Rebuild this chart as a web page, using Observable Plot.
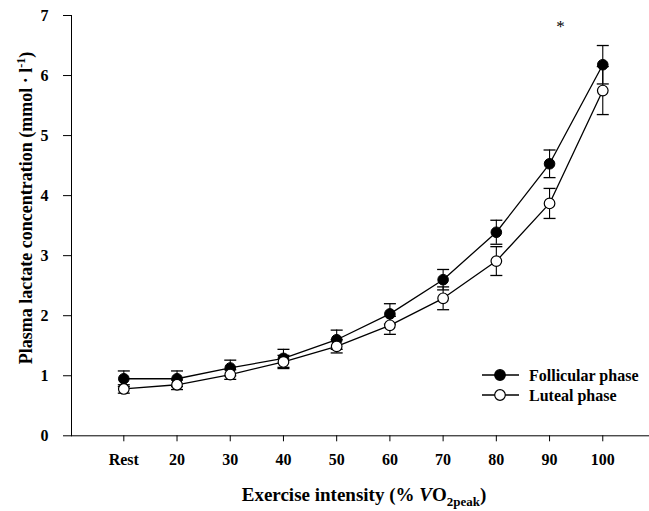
<!DOCTYPE html>
<html>
<head>
<meta charset="utf-8">
<script src="https://cdn.jsdelivr.net/npm/d3@7"></script>
<script src="https://cdn.jsdelivr.net/npm/@observablehq/plot@0.6"></script>
<style>
  html, body { margin: 0; padding: 0; background: #fff; }
  #chart { width: 649px; height: 511px; }
</style>
</head>
<body>
<div id="chart"></div>
<script>
// ---- data ----
const levels = ["Rest", "20", "30", "40", "50", "60", "70", "80", "90", "100"];
const follicular   = [0.95, 0.95, 1.13, 1.29, 1.60, 2.03, 2.60, 3.39, 4.53, 6.18];
const follicularSE = [0.13, 0.13, 0.13, 0.15, 0.16, 0.17, 0.17, 0.20, 0.23, 0.32];
const luteal       = [0.78, 0.85, 1.02, 1.23, 1.49, 1.84, 2.29, 2.91, 3.87, 5.75];
const lutealSE     = [0.07, 0.08, 0.08, 0.11, 0.11, 0.15, 0.19, 0.24, 0.25, 0.40];
const phases = ["Follicular phase", "Luteal phase"];
const yTicks = [0, 1, 2, 3, 4, 5, 6, 7];
const significance = [{level: "90", value: 6.82, label: "*"}];

// ---- table built from the arrays ----
const rows = [];
levels.forEach((lv, i) => {
  rows.push({phase: phases[0], i, value: follicular[i], se: follicularSE[i]});
  rows.push({phase: phases[1], i, value: luteal[i], se: lutealSE[i]});
});
const caps = rows.flatMap(d => [{i: d.i, y: d.value - d.se}, {i: d.i, y: d.value + d.se}]);
const fol = rows.filter(d => d.phase === phases[0]);
const lut = rows.filter(d => d.phase === phases[1]);

const capSymbol = {
  draw(ctx, size) {
    const r = Math.sqrt(size / Math.PI);
    ctx.moveTo(-r, 0);
    ctx.lineTo(r, 0);
  }
};

const W = 649, H = 511;
const plot = Plot.plot({
  width: W,
  height: H,
  marginLeft: 71,
  marginRight: 0,
  marginTop: 15,
  marginBottom: 75.7,
  style: {fontFamily: "'Liberation Serif', 'Times New Roman', serif", fontSize: "16px", fontWeight: "bold", color: "black", background: "white"},
  x: {
    type: "linear",
    domain: [-0.983, 9.878],
    ticks: levels.map((d, i) => i),
    tickFormat: i => levels[i],
    tickSize: 6,
    tickPadding: 12,
    line: true,
    label: null
  },
  y: {
    domain: [0, 7],
    ticks: yTicks,
    tickFormat: d => String(d),
    tickSize: 8,
    tickPadding: 15,
    line: true,
    label: null
  },
  marks: [
    Plot.ruleX(rows, {x: "i", y1: d => d.value - d.se, y2: d => d.value + d.se, stroke: "black", strokeWidth: 1.1}),
    Plot.dot(caps, {x: "i", y: "y", r: 6, symbol: capSymbol, stroke: "black", strokeWidth: 1.3, fill: "none"}),
    Plot.line(rows, {x: "i", y: "value", z: "phase", stroke: "black", strokeWidth: 1.3}),
    Plot.dot(fol, {x: "i", y: "value", r: 5.3, fill: "black", stroke: "black", strokeWidth: 1}),
    Plot.dot(lut, {x: "i", y: "value", r: 5.3, fill: "white", stroke: "black", strokeWidth: 1.2}),
    Plot.text(significance, {x: d => levels.indexOf(d.level), y: "value", text: "label", dx: 11, fontSize: 17, fontWeight: "normal"})
  ]
});
document.getElementById("chart").appendChild(plot);

// ---- axis titles and legend ----
const svg = d3.select(plot);
const font = "'Liberation Serif', 'Times New Roman', serif";

const yt = svg.append("text")
  .attr("transform", "translate(32,208) rotate(-90)")
  .attr("text-anchor", "middle")
  .attr("font-family", font).attr("font-weight", "bold").attr("font-size", 18).attr("fill", "black");
yt.append("tspan").text("Plasma lactate concentration (mmol \u00B7 l");
yt.append("tspan").attr("font-size", 12).attr("dy", -7).text("-1");
yt.append("tspan").attr("dy", 7).text(")");

const xt = svg.append("text")
  .attr("x", 364).attr("y", 501)
  .attr("text-anchor", "middle")
  .attr("font-family", font).attr("font-weight", "bold").attr("font-size", 19).attr("fill", "black");
xt.append("tspan").text("Exercise intensity (% ");
xt.append("tspan").attr("font-style", "italic").text("V");
xt.append("tspan").text("O");
xt.append("tspan").attr("font-size", 13).attr("dy", 5).text("2peak");
xt.append("tspan").attr("dy", -5).text(")");

const legend = svg.append("g").attr("text-anchor", "start");
phases.forEach((p, k) => {
  const y = 375 + k * 20;
  legend.append("line").attr("x1", 482).attr("x2", 519).attr("y1", y).attr("y2", y)
    .attr("stroke", "black").attr("stroke-width", 1.3);
  legend.append("circle").attr("cx", 500).attr("cy", y).attr("r", 5.3)
    .attr("fill", k === 0 ? "black" : "white").attr("stroke", "black").attr("stroke-width", 1.2);
  legend.append("text").attr("x", 529).attr("y", y).attr("dy", "0.35em")
    .attr("text-anchor", "start")
    .attr("font-family", font).attr("font-weight", "bold").attr("font-size", 16).attr("fill", "black")
    .text(p);
});
</script>
</body>
</html>
